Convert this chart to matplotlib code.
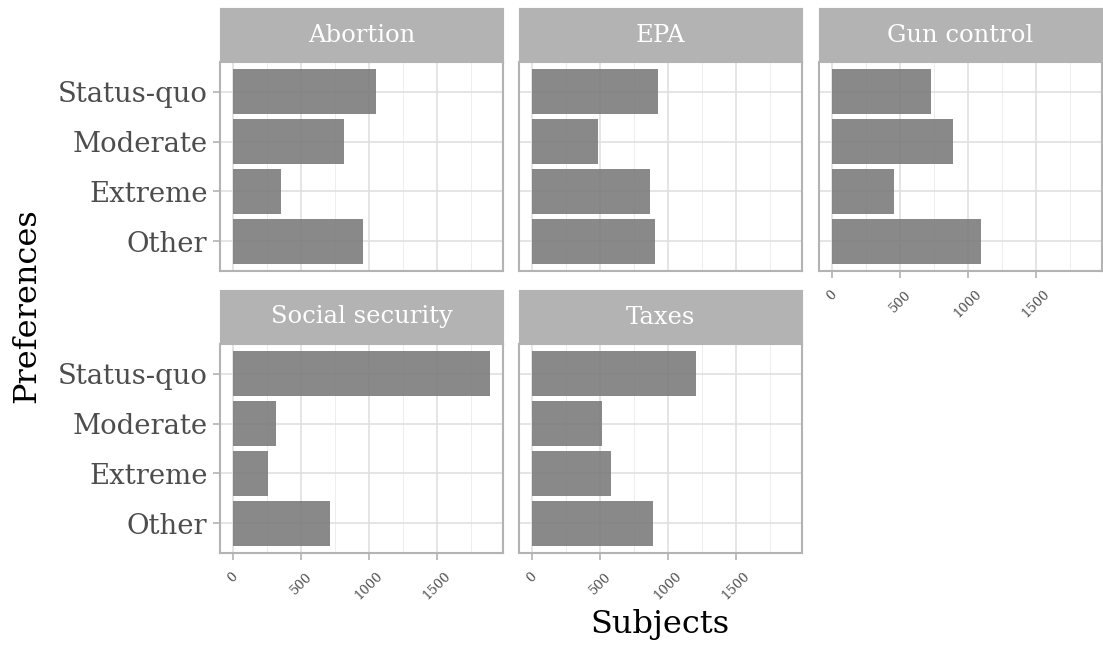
import matplotlib
matplotlib.use("Agg")
import matplotlib.pyplot as plt
from matplotlib.ticker import MultipleLocator

plt.rcParams["font.family"] = ["DejaVu Serif"]

# ── DATA ────────────────────────────────────────────────────────────────────
categories = ["Status-quo", "Moderate", "Extreme", "Other"]
panels = ["Abortion", "EPA", "Gun control", "Social security", "Taxes"]
abortion = [1050, 815, 352, 955]
epa = [926, 485, 868, 904]
gun_control = [728, 890, 456, 1096]
social_security = [1890, 316, 257, 713]
taxes = [1206, 515, 581, 890]
values = [abortion, epa, gun_control, social_security, taxes]
x_ticks = [0, 500, 1000, 1500]

# ── STYLE ───────────────────────────────────────────────────────────────────
W, H = 1103, 651
border = "#b3b3b3"
col_x = [220, 519, 819]
col_w = 283
row_strip = [8, 290]
strip_h = 54
panel_h = 209
xmax = max(max(v) for v in values)
xlim = (-0.05 * xmax, 1.05 * xmax)


def fig_rect(x, y, w, h):
    return [x / W, 1 - (y + h) / H, w / W, h / H]


fig = plt.figure(figsize=(W / 100, H / 100), dpi=100)

for i, (name, vals) in enumerate(zip(panels, values)):
    r, c = divmod(i, 3)
    x0 = col_x[c]
    ys = row_strip[r]

    # strip
    sax = fig.add_axes(fig_rect(x0, ys, col_w, strip_h))
    sax.set_facecolor(border)
    sax.set_xticks([])
    sax.set_yticks([])
    for s in sax.spines.values():
        s.set_color(border)
    sax.text(0.5, 0.5, name, color="white", fontsize=17.5,
             ha="center", va="center", transform=sax.transAxes)

    # panel
    ax = fig.add_axes(fig_rect(x0, ys + strip_h, col_w, panel_h))
    ypos = list(range(len(categories)))[::-1]
    ax.barh(ypos, vals, height=0.9, color="#7c7c7c", alpha=0.9, zorder=2)
    ax.set_xlim(*xlim)
    ax.set_ylim(-0.6, len(categories) - 0.4)
    ax.set_xticks(x_ticks)
    ax.xaxis.set_minor_locator(MultipleLocator(250))
    ax.set_yticks(ypos)
    ax.grid(which="major", color="#dedede", linewidth=1.1, zorder=0)
    ax.grid(which="minor", axis="x", color="#ededed", linewidth=0.7, zorder=0)
    ax.set_axisbelow(True)
    for s in ax.spines.values():
        s.set_color(border)
        s.set_linewidth(1.5)
    ax.tick_params(which="minor", length=0)
    ax.tick_params(which="major", color=border, length=5, width=1.2)

    if c == 0:
        ax.set_yticklabels(categories, fontsize=19.8, color="#4d4d4d")
        ax.tick_params(axis="y", pad=4)
    else:
        ax.set_yticklabels([])
        ax.tick_params(axis="y", length=0)

    show_x = (r == 1) or (c == 2)
    if show_x:
        ax.set_xticklabels([str(t) for t in x_ticks], fontsize=9.5,
                           color="#4d4d4d", rotation=45, ha="center")
        ax.tick_params(axis="x", pad=7)
    else:
        ax.set_xticklabels([])
        ax.tick_params(axis="x", length=0)

fig.text(27 / W, 1 - 306 / H, "Preferences", fontsize=23, rotation=90,
         ha="center", va="center")
fig.text(660 / W, 1 - 625 / H, "Subjects", fontsize=23,
         ha="center", va="center")

fig.savefig("out.png", dpi=100)
